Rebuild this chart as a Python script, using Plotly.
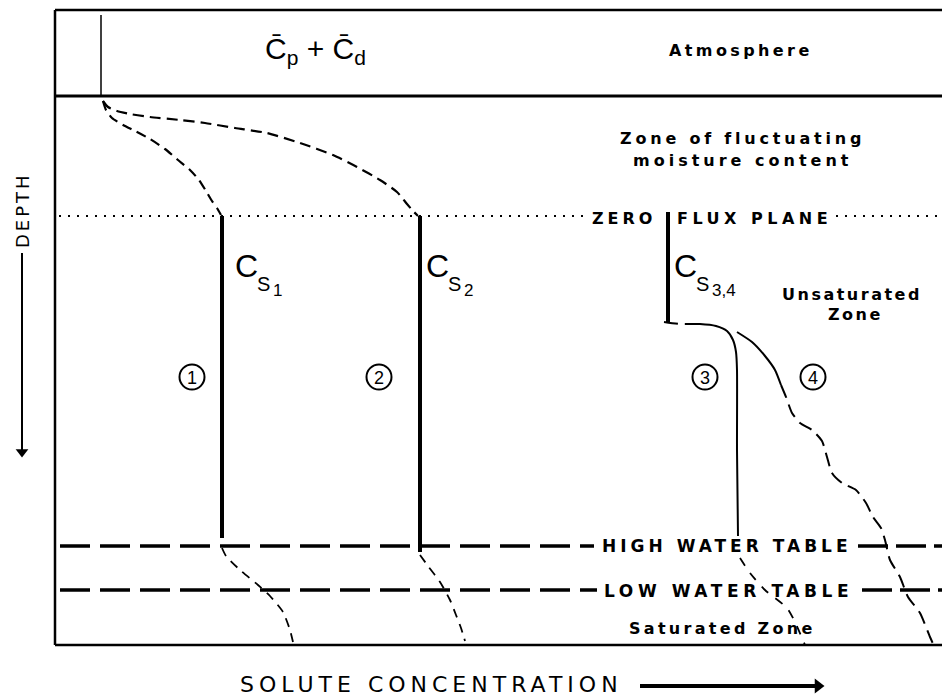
import plotly.graph_objects as go

# ---------------- schematic data (concentration -> x, depth -> y; depth grows downward)
FRAME_LEFT, FRAME_RIGHT = 55, 942
DEPTH_TOP, DEPTH_SURFACE, DEPTH_ZERO_FLUX = 10, 96, 216
DEPTH_HIGH_WT, DEPTH_LOW_WT, DEPTH_BOTTOM = 546, 590, 645

# input concentration marker at surface (Cp + Cd)
input_conc = [101, 101]
input_depth = [15, 96]

# constant-concentration segments Cs1, Cs2, Cs3,4
cs_conc = [222, 420, 668]
cs_depth_top = [216, 216, 212]
cs_depth_bottom = [538, 552, 322]

# profile 1 (upper, fluctuating zone) and lower (saturated)
p1_up_conc = [103, 106, 112, 123, 135, 150, 165, 178, 190, 199, 206, 212, 217, 221]
p1_up_depth = [101, 110, 118, 125, 131, 139, 149, 160, 170, 180, 191, 201, 208, 215]
p1_lo_conc = [222, 226, 240, 258, 270, 283, 290, 293]
p1_lo_depth = [548, 556, 570, 585, 596, 612, 630, 642]

# profile 2
p2_up_conc = [103, 108, 117, 130, 150, 180, 205, 235, 267, 300, 333, 357, 380, 397, 407, 413, 418]
p2_up_depth = [101, 107, 111, 114, 117, 120, 123, 128, 133, 143, 155, 167, 180, 192, 204, 211, 216]
p2_lo_conc = [420, 428, 440, 450, 456, 461, 465]
p2_lo_depth = [555, 566, 582, 600, 615, 628, 641]

# profile 3
p3_up_conc = [664, 680, 700, 716, 727, 733, 736, 737, 737, 738]
p3_up_depth = [322, 324, 324, 326, 331, 340, 352, 370, 450, 536]
p3_lo_conc = [740, 750, 765, 787, 795, 805]
p3_lo_depth = [558, 573, 590, 608, 622, 645]

# profile 4
p4_a_conc = [737, 752, 765, 775, 781]
p4_a_depth = [332, 342, 356, 370, 385]
p4_b_conc = [781, 786, 792, 800, 812, 822, 827, 832, 842, 856, 866, 873, 881, 885, 890,
             900, 908, 920, 930, 935]
p4_b_depth = [385, 397, 413, 423, 430, 441, 457, 473, 483, 490, 503, 517, 528, 540, 560,
              577, 597, 613, 637, 648]

# circled profile numbers
num_labels = ["1", "2", "3", "4"]
num_conc = [192, 379, 705, 813]
num_depth = [377, 377, 377, 377]

BLACK = "#000000"
fig = go.Figure()


def line(x, y, width, dash=None, color=BLACK, shape="spline"):
    fig.add_trace(go.Scatter(
        x=x, y=y, mode="lines", hoverinfo="skip", showlegend=False,
        line=dict(color=color, width=width, dash=dash, shape=shape, smoothing=0.6)))


# frame
line([FRAME_LEFT, FRAME_RIGHT], [DEPTH_TOP, DEPTH_TOP], 2.5, shape="linear")
line([FRAME_LEFT, FRAME_LEFT], [DEPTH_TOP, DEPTH_BOTTOM], 2.5, shape="linear")
line([FRAME_LEFT, FRAME_RIGHT], [DEPTH_BOTTOM, DEPTH_BOTTOM], 2.5, shape="linear")
# ground surface
line([FRAME_LEFT, FRAME_RIGHT], [DEPTH_SURFACE, DEPTH_SURFACE], 3, shape="linear")
# input marker
line(input_conc, input_depth, 1.5, shape="linear")

# zero flux plane (dotted), interrupted by text
line([FRAME_LEFT + 4, 586], [DEPTH_ZERO_FLUX] * 2, 2.2, dash="2px,7px", shape="linear")
line([836, FRAME_RIGHT], [DEPTH_ZERO_FLUX] * 2, 2.2, dash="2px,7px", shape="linear")

# water tables (long dashes)
line([FRAME_LEFT + 5, 594], [DEPTH_HIGH_WT] * 2, 3.5, dash="30px,10px", shape="linear")
line([858, FRAME_RIGHT], [DEPTH_HIGH_WT] * 2, 3.5, dash="30px,8px", shape="linear")
line([FRAME_LEFT + 5, 597], [DEPTH_LOW_WT] * 2, 3.5, dash="30px,10px", shape="linear")
line([862, FRAME_RIGHT], [DEPTH_LOW_WT] * 2, 3.5, dash="30px,8px", shape="linear")

# Cs vertical segments
for c, t, b in zip(cs_conc, cs_depth_top, cs_depth_bottom):
    line([c, c], [t, b], 4, shape="linear")

# profiles
line(p1_up_conc, p1_up_depth, 2.2, dash="10px,6px")
line(p1_lo_conc, p1_lo_depth, 1.8, dash="9px,7px")
line(p2_up_conc, p2_up_depth, 2.2, dash="11px,6px")
line(p2_lo_conc, p2_lo_depth, 1.8, dash="9px,7px")
line(p3_up_conc, p3_up_depth, 2.0, dash="14px,7px,2000px")
line(p3_lo_conc, p3_lo_depth, 1.8, dash="9px,9px")
line(p4_a_conc, p4_a_depth, 2.0)
line(p4_b_conc, p4_b_depth, 2.0, dash="14px,7px")

# DEPTH arrow
line([22, 22], [253, 450], 2, shape="linear")
fig.add_trace(go.Scatter(x=[22], y=[452], mode="markers", hoverinfo="skip", showlegend=False,
                         marker=dict(symbol="triangle-down", size=11, color=BLACK)))
# SOLUTE CONCENTRATION arrow
line([640, 815], [686, 686], 4, shape="linear")
fig.add_trace(go.Scatter(x=[818], y=[686], mode="markers", hoverinfo="skip", showlegend=False,
                         marker=dict(symbol="triangle-right", size=13, color=BLACK)))

# circled numbers
fig.add_trace(go.Scatter(x=num_conc, y=num_depth, mode="markers", hoverinfo="skip", showlegend=False,
                         marker=dict(symbol="circle-open", size=25, color=BLACK, line=dict(width=2))))

annots = []


def txt(s, x, y, size, bold=False, spacing=0, xanchor="center", family="DejaVu Sans", angle=0):
    if bold:
        s = "<b>" + s + "</b>"
    if spacing:
        s = '<span style="letter-spacing:%spx">%s</span>' % (spacing, s)
    annots.append(dict(text=s, x=x, y=y, xref="x", yref="y", showarrow=False,
                       xanchor=xanchor, yanchor="middle", textangle=angle,
                       font=dict(family=family, size=size, color=BLACK)))


for lab, cx, cy in zip(num_labels, num_conc, num_depth):
    txt(lab, cx, cy + 1, 18, family="Liberation Sans")

txt("C\u0304<sub>p</sub> + C\u0304<sub>d</sub>", 315, 50, 30, family="Liberation Sans")
txt("Atmosphere", 741, 50, 16, bold=True, spacing=3.4)
txt("Zone of fluctuating", 742, 138, 16, bold=True, spacing=3.8)
txt("moisture content", 742, 160, 16, bold=True, spacing=4)
txt("ZERO", 590, 218, 16, bold=True, spacing=4, xanchor="left")
txt("FLUX PLANE", 675, 218, 16, bold=True, spacing=4.5, xanchor="left")
txt("Unsaturated", 852, 294, 16, bold=True, spacing=2.5)
txt("Zone", 855, 314, 16, bold=True, spacing=2.5)
txt("HIGH WATER TABLE", 600, 546, 17, bold=True, spacing=4, xanchor="left")
txt("LOW WATER TABLE", 602, 591, 17, bold=True, spacing=4.6, xanchor="left")
txt("Saturated Zone", 722, 628, 16, bold=True, spacing=3.3)
txt("SOLUTE CONCENTRATION", 238, 684, 22, spacing=5, xanchor="left")
txt("DEPTH", 22, 210, 18, spacing=3, angle=-90)

# Cs labels
for cx, sub in zip([233, 424, 672], ["1", "2", "3,4"]):
    txt("C", cx, 266, 32, xanchor="left", family="Liberation Sans")
    txt("S", cx + 22, 284, 20, xanchor="left", family="Liberation Sans")
    txt(sub, cx + 38, 290, 17, xanchor="left", family="Liberation Sans")

fig.update_layout(
    width=942, height=698, autosize=False,
    margin=dict(l=0, r=0, t=0, b=0),
    paper_bgcolor="white", plot_bgcolor="white",
    xaxis=dict(range=[0, 942], visible=False, fixedrange=True),
    yaxis=dict(range=[698, 0], visible=False, fixedrange=True),
    annotations=annots, showlegend=False,
)
fig.write_html("out.html", config={"displayModeBar": False},
               post_script="document.body.style.margin='0';document.body.style.overflow='hidden';")
